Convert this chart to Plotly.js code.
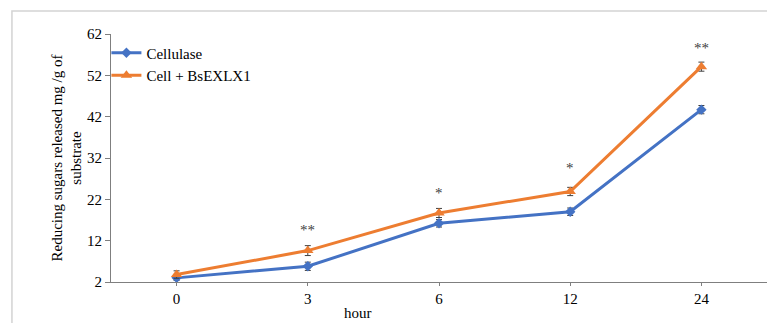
<!DOCTYPE html>
<html>
<head>
<meta charset="utf-8">
<script src="https://cdn.plot.ly/plotly-3.0.1.min.js"></script>
<style>
html,body{margin:0;padding:0;background:#fff;overflow:hidden;}
#chart{width:767px;height:323px;}
</style>
</head>
<body>
<div id="chart"></div>
<script>
// Data
const hours = ["0", "3", "6", "12", "24"];
const cellulase = [3.0, 5.8, 16.2, 19.0, 43.7];
const cellulaseErr = [0.6, 1.0, 0.9, 0.9, 1.0];
const cellBs = [3.8, 9.6, 18.7, 23.9, 54.1];
const cellBsErr = [0.9, 1.2, 1.1, 1.0, 1.1];
const sigLabels = ["", "**", "*", "*", "**"];
const sigY = [0, 14.7, 23.6, 29.5, 58.6];
const yTicks = [2, 12, 22, 32, 42, 52, 62];

const serif = "Liberation Serif";

const traces = [
  {
    x: hours, y: cellulase, name: "Cellulase", type: "scatter", mode: "lines+markers",
    line: {color: "#4472C4", width: 3},
    marker: {symbol: "diamond", size: 8, color: "#4472C4"},
    error_y: {type: "data", array: cellulaseErr, visible: true, color: "#404040", thickness: 1, width: 3}
  },
  {
    x: hours, y: cellBs, name: "Cell + BsEXLX1", type: "scatter", mode: "lines+markers",
    line: {color: "#ED7D31", width: 3},
    marker: {symbol: "triangle-up", size: 10, color: "#ED7D31"},
    error_y: {type: "data", array: cellBsErr, visible: true, color: "#404040", thickness: 1, width: 3}
  }
];

const annotations = [];
hours.forEach((h, i) => {
  if (sigLabels[i]) {
    // category axes position annotations by category index
    annotations.push({x: i, y: sigY[i], xref: "x", yref: "y", text: sigLabels[i],
      showarrow: false, font: {family: serif, size: 15, color: "#404040"}});
  }
});
annotations.push({x: 0.377, y: -0.125, xref: "paper", yref: "paper", text: "hour",
  showarrow: false, yanchor: "middle", font: {family: serif, size: 15, color: "#000"}});

const layout = {
  width: 767, height: 323,
  margin: {l: 111, r: 0, t: 34, b: 41},
  paper_bgcolor: "#fff", plot_bgcolor: "#fff",
  font: {family: serif, size: 15, color: "#000"},
  showlegend: true,
  legend: {x: -0.007, y: 0.99, xanchor: "left", yanchor: "top", bgcolor: "rgba(0,0,0,0)",
    font: {family: serif, size: 15, color: "#000"}, tracegroupgap: 0},
  xaxis: {
    type: "category", range: [-0.5, 4.5],
    showline: true, linecolor: "#7f7f7f", linewidth: 1,
    ticks: "outside", ticklen: 3, tickcolor: "#7f7f7f",
    showgrid: false, zeroline: false,
    tickfont: {family: serif, size: 15}
  },
  yaxis: {
    range: [2, 62], tickvals: yTicks, ticktext: yTicks.map(String),
    showline: true, linecolor: "#7f7f7f", linewidth: 1,
    ticks: "outside", ticklen: 5, tickcolor: "#7f7f7f",
    showgrid: false, zeroline: false,
    tickfont: {family: serif, size: 15},
    title: {text: "Reducing sugars released mg /g of<br>substrate", font: {family: serif, size: 15}, standoff: 1}
  },
  annotations: annotations,
  shapes: [{
    type: "rect", xref: "paper", yref: "paper",
    x0: -0.151, x1: 1.05, y0: -0.3, y1: 1.093,
    line: {color: "#d3d3d3", width: 1.5}, fillcolor: "rgba(0,0,0,0)"
  }]
};

Plotly.newPlot("chart", traces, layout, {displayModeBar: false, staticPlot: true});
</script>
</body>
</html>
